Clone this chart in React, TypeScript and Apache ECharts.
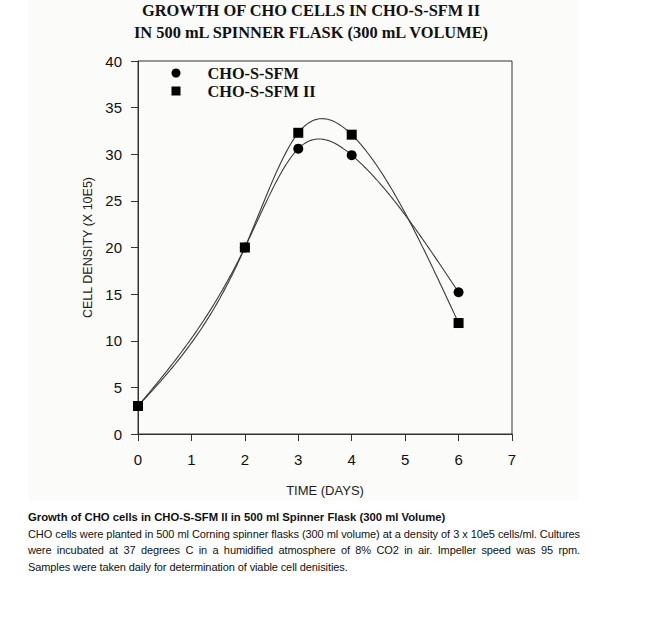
import React, { useEffect, useRef } from "react";
import * as echarts from "echarts";

const days = [0, 2, 3, 4, 6];
const sfm = [3, 20, 30.6, 29.9, 15.2];
const sfm2 = [3, 20, 32.3, 32.1, 11.9];
const seriesNames = ["CHO-S-SFM", "CHO-S-SFM II"];
const titleLines = ["GROWTH OF CHO CELLS IN CHO-S-SFM II", "IN 500 mL SPINNER FLASK (300 mL VOLUME)"];
const captionTitle = "Growth of CHO cells in CHO-S-SFM II in 500 ml Spinner Flask (300 ml Volume)";
const captionLines = [
  "CHO cells were planted in 500 ml Corning spinner flasks (300 ml volume) at a density of 3 x 10e5 cells/ml. Cultures",
  "were incubated at 37 degrees C in a humidified atmosphere of 8% CO2 in air. Impeller speed was 95 rpm.",
  "Samples were taken daily for determination of viable cell denisities.",
];

// natural cubic spline through the given points (used only for drawing the curve)
function naturalSpline(xs: number[], ys: number[]) {
  const n = xs.length;
  const h: number[] = [];
  for (let i = 0; i < n - 1; i++) h.push(xs[i + 1] - xs[i]);
  const a: number[] = new Array(n).fill(0);
  const b: number[] = new Array(n).fill(1);
  const c: number[] = new Array(n).fill(0);
  const d: number[] = new Array(n).fill(0);
  for (let i = 1; i < n - 1; i++) {
    a[i] = h[i - 1];
    b[i] = 2 * (h[i - 1] + h[i]);
    c[i] = h[i];
    d[i] = 6 * ((ys[i + 1] - ys[i]) / h[i] - (ys[i] - ys[i - 1]) / h[i - 1]);
  }
  // Thomas algorithm
  const cp = new Array(n).fill(0);
  const dp = new Array(n).fill(0);
  cp[0] = c[0] / b[0];
  dp[0] = d[0] / b[0];
  for (let i = 1; i < n; i++) {
    const m = b[i] - a[i] * cp[i - 1];
    cp[i] = c[i] / m;
    dp[i] = (d[i] - a[i] * dp[i - 1]) / m;
  }
  const M = new Array(n).fill(0);
  M[n - 1] = dp[n - 1];
  for (let i = n - 2; i >= 0; i--) M[i] = dp[i] - cp[i] * M[i + 1];
  return (x: number) => {
    let i = 0;
    while (i < n - 2 && x > xs[i + 1]) i++;
    const hi = h[i];
    const t1 = xs[i + 1] - x;
    const t0 = x - xs[i];
    return (
      (M[i] * t1 * t1 * t1) / (6 * hi) +
      (M[i + 1] * t0 * t0 * t0) / (6 * hi) +
      (ys[i] / hi - (M[i] * hi) / 6) * t1 +
      (ys[i + 1] / hi - (M[i + 1] * hi) / 6) * t0
    );
  };
}

function curveSeries(name: string, ys: number[]) {
  const f = naturalSpline(days, ys);
  return {
    name,
    type: "custom",
    coordinateSystem: "cartesian2d",
    silent: true,
    data: days.map((d, i) => [d, ys[i]]),
    encode: { x: 0, y: 1 },
    z: 2,
    renderItem: (params: any, api: any) => {
      if (params.dataIndex !== 0) return null;
      const pts: number[][] = [];
      const x0 = days[0];
      const x1 = days[days.length - 1];
      const steps = 240;
      for (let k = 0; k <= steps; k++) {
        const x = x0 + ((x1 - x0) * k) / steps;
        pts.push(api.coord([x, f(x)]));
      }
      return {
        type: "polyline",
        shape: { points: pts },
        style: { stroke: "#3a3a3a", lineWidth: 1.1, fill: null },
      };
    },
  };
}

export default function App() {
  const ref = useRef<HTMLDivElement>(null);
  useEffect(() => {
    if (!ref.current) return;
    const chart = echarts.init(ref.current, null, { renderer: "svg" });
    const sans = "'Liberation Sans', Arial, sans-serif";
    const serif = "'Liberation Serif', 'Times New Roman', serif";
    chart.setOption({
      animation: false,
      title: {
        text: titleLines.join("\n"),
        left: 311,
        top: -1,
        padding: 0,
        textAlign: "center",
        textStyle: { fontFamily: serif, fontWeight: "bold", fontSize: 16.4, color: "#111", lineHeight: 22.5 },
      },
      legend: {
        orient: "vertical",
        left: 171.5,
        top: 65,
        padding: 0,
        itemGap: 2,
        itemWidth: 9,
        itemHeight: 9,
        data: [
          { name: seriesNames[0], icon: "circle" },
          { name: seriesNames[1], icon: "rect" },
        ],
        textStyle: { fontFamily: serif, fontWeight: "bold", fontSize: 16.3, color: "#111", padding: [0, 0, 0, 22] },
      },
      grid: { left: 138, right: 146, top: 61, bottom: 186, show: true, borderColor: "#333", borderWidth: 1, backgroundColor: "transparent" },
      xAxis: {
        type: "value",
        min: 0,
        max: 7,
        interval: 1,
        name: "TIME (DAYS)",
        nameLocation: "middle",
        nameGap: 50,
        nameTextStyle: { fontFamily: sans, fontSize: 13, color: "#222" },
        axisLine: { show: true, lineStyle: { color: "#333" } },
        axisTick: { show: true, length: 7, lineStyle: { color: "#333" } },
        axisLabel: { fontFamily: sans, fontSize: 15, color: "#111", margin: 18 },
        splitLine: { show: false },
      },
      yAxis: {
        type: "value",
        min: 0,
        max: 40,
        interval: 5,
        name: "CELL DENSITY (X 10E5)",
        nameLocation: "middle",
        nameGap: 40,
        nameTextStyle: { fontFamily: sans, fontSize: 12.5, color: "#222" },
        axisLine: { show: true, lineStyle: { color: "#333" } },
        axisTick: { show: true, length: 7, lineStyle: { color: "#333" } },
        axisLabel: { fontFamily: sans, fontSize: 15, color: "#111", margin: 16 },
        splitLine: { show: false },
      },
      series: [
        curveSeries("curve-a", sfm),
        curveSeries("curve-b", sfm2),
        {
          name: seriesNames[0],
          type: "scatter",
          data: days.map((d, i) => [d, sfm[i]]),
          symbol: "circle",
          symbolSize: 10,
          itemStyle: { color: "#000", opacity: 1 },
          z: 3,
        },
        {
          name: seriesNames[1],
          type: "scatter",
          data: days.map((d, i) => [d, sfm2[i]]),
          symbol: "rect",
          symbolSize: 10,
          itemStyle: { color: "#000", opacity: 1 },
          z: 4,
        },
      ],
    });
    return () => chart.dispose();
  }, []);
  const lineStyle: React.CSSProperties = {
    textAlign: "justify",
    textAlignLast: "justify",
    whiteSpace: "nowrap",
    height: 16.7,
  };
  return (
    <div style={{ position: "absolute", left: 0, top: 0, width: 658, height: 620, background: "#fff" }}>
      <div style={{ position: "absolute", left: 28, top: 0, width: 550, height: 501, background: "#fbfbf9" }} />
      <div ref={ref} style={{ position: "absolute", left: 0, top: 0, width: 658, height: 620 }} />
      <div
        style={{
          position: "absolute",
          left: 28,
          top: 509,
          width: 552,
          fontFamily: "'Liberation Sans', Arial, sans-serif",
          fontSize: 11,
          lineHeight: "16.7px",
          color: "#111",
          letterSpacing: "-0.1px",
        }}
      >
        <div style={{ fontWeight: "bold", fontSize: 11.3, letterSpacing: 0 }}>{captionTitle}</div>
        <div style={lineStyle}>{captionLines[0]}</div>
        <div style={lineStyle}>{captionLines[1]}</div>
        <div>{captionLines[2]}</div>
      </div>
    </div>
  );
}
